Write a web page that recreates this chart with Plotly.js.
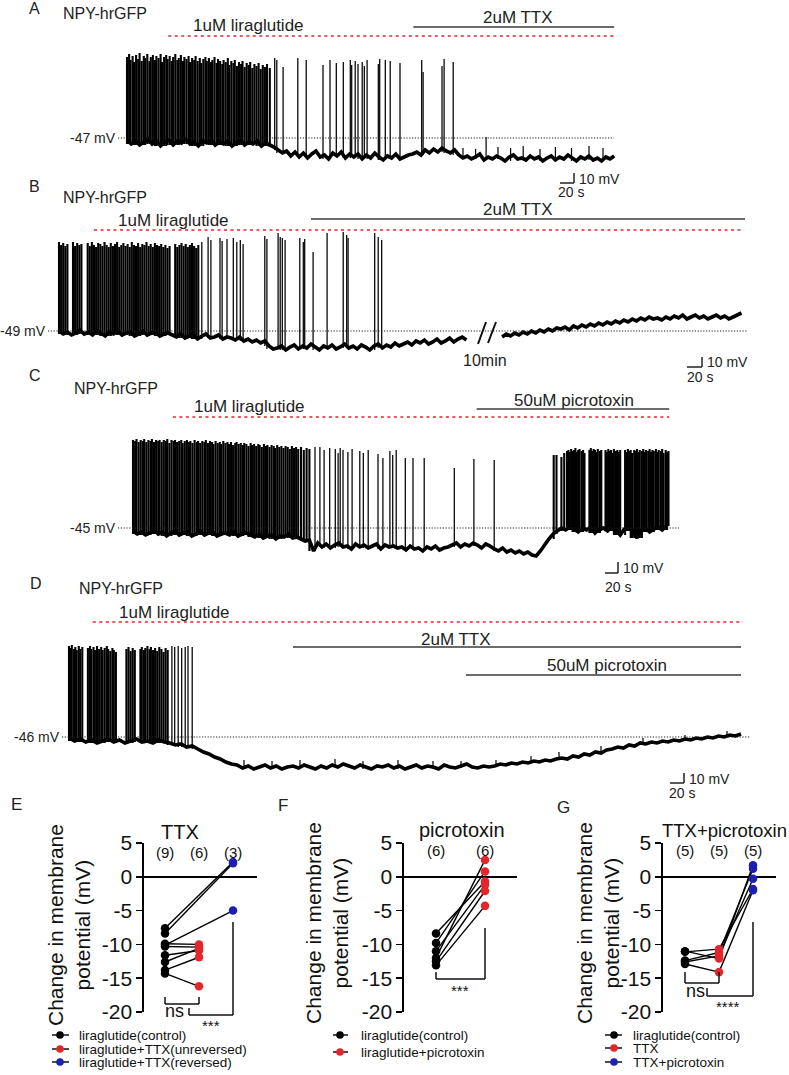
<!DOCTYPE html>
<html><head><meta charset="utf-8">
<script src="https://cdn.plot.ly/plotly-3.0.1.min.js"></script>
<style>html,body{margin:0;padding:0;background:#fff}#chart{width:789px;height:1075px}</style>
</head><body><div id="chart"></div>
<script>
// ================= DATA =================
// Panel A (time in s, membrane potential in mV)
const A_rest = -47;
const A_dt = 6;
const A_base = [-49,-53,-50,-54,-51,-48,-53,-50,-55,-51,-49,-54,-50,-52,-48,-53,-51,-55,-50,-52,-49,-54,-51,-53,-50,-55,-52,-49,-54,-51,-53,-50,-55,-52,-54,
 -56,-59,-62,-60,
 -65,-61,-66,-62,-67,-63,-60,-66,-64,-68,-62,-65,-61,-67,-63,
 -66,-63,-68,-64,-67,-62,-66,-69,-65,-67,-63,-68,-66,-64,
 -63,-61,-64,
 -59,-62,-58,-61,-57,-60,-62,-59,
 -64,-67,-65,-68,-66,-63,-69,-66,-68,-65,-67,-70,-66,-64,-68,-67,-69,-65,-68,-66,-70,-67,-65,-69,-66,-68,-64,-67,-70,-66,-68,-65,-69,-67,-70,-66,-68,-65];
const A_burst = [[0,34],[3,37],[5,31],[8,35],[10,29],[13,36],[16,32],[18,38],[21,30],[24,35],[26,33],[29,37],[32,30],[34,34],[37,36],[40,31],[42,35],[45,33],[48,37],[50,29],[53,34],[56,36],[58,32],[61,35],[64,30],[66,34],[69,37],[72,31],[74,33],[77,36],[80,30],[82,34],[85,32],[88,35],[90,29],[93,33],[96,31],[98,35],[101,30],[104,33],[106,28],[109,32],[112,34],[114,30],[117,33],[120,29],[122,31],[125,34],[128,28],[130,32],[133,30],[136,27],[138,31],[141,29],[144,33],[146,26],[149,30],[152,28],[154,31],[157,25],[160,29],[163,27],[165,30],[168,24],[171,28],[174,26],[176,29],[179,23],[182,27],[185,25],[188,28],[191,22],[194,26],[197,24],[200,27],[204,23]];
const A_spikes = [[211,33],[214,31],[223,24],[244,33],[256,31],[280,26],[290,31],[299,28],[309,29],[319,31],[321,26],[326,30],[330,27],[336,29],[339,25],[343,31],[359,27],[361,32],[369,31],[376,30],[390,28],[421,31],[423,19],[450,25],[453,32],[466,29]];
const A_events = [[480,-57],[498,-58],[513,-46],[530,-56],[548,-57],[566,-55],[590,-58],[612,-56],[635,-57],[660,-55],[680,-57]];
const A_lira = [59, 699];
const A_ttx = [409, 696];

// Panel B
const B_rest = -49;
const B_dt = 6;
const B_pre = [-49,-52,-50,-53,-51,-48,-52,-50,-53,-49,-51,-54,-50,-52,-49,-53,-51,-50,-54,-52,-49,-53,-51,-50,-54,-52,-51,
 -53,-55,-52,-56,-54,-53,-57,-54,-52,-56,-55,-53,-57,-55,
 -56,-58,-55,-59,-57,-60,-58,-61,-59,
 -64,-67,
 -66,-64,-68,-65,-63,-67,-64,-66,-62,-65,-68,-64,-66,-63,-67,-65,-62,-66,-64,-67,-63,-65,-68,-64,-62,-66,-63,-65,-61,-64,
 -62,-60,-63,-59,-61,-58,-62,-60,-57,-61,-59,-56,-60,-57,-55,-58];
const B_post_start = 633;
const B_post = [-55,-52,-54,-51,-53,-50,-52,-49,-51,-48,-50,-47,-49,-46,
 -47,-45,-48,-44,-46,-43,-45,-42,-44,-41,-43,-40,-42,-39,
 -41,-38,-40,-37,-39,-36,-38,-35,-37,-36,
 -38,-35,-37,-34,-36,-33,-37,-35,-33,-36,-34,-37,-35,-33,-36,-34,-37,-35,-33,-31];
const B_burst = [[0,40],[3,37],[6,39],[9,36],[12,38],[20,40],[23,36],[26,39],[29,37],[32,38],[41,39],[44,36],[47,40],[50,37],[53,35],[56,39],[59,38],[62,36],[65,40],[68,37],[71,35],[74,39],[77,36],[80,38],[83,40],[86,35],[89,37],[92,39],[95,36],[98,38],[101,35],[104,40],[107,37],[110,36],[113,39],[116,35],[119,38],[122,37],[125,40],[128,36],[131,38],[134,35],[137,39],[140,37],[143,36],[146,38],[149,35],[152,37],[155,34],[158,36],
 [166,38],[169,35],[172,37],[175,39],[178,36],[181,38],[184,35],[187,37],[190,39],[193,36],[196,34],[199,37]];
const B_spikes = [[204,40],[213,45],[217,42],[230,44],[233,41],[240,43],[249,44],[254,40],[259,42],[263,38],[294,46],[297,43],[313,49],[316,45],[319,44],[323,42],[344,44],[349,40],[351,43],[363,30],[383,49],[406,50],[411,47],[413,44],[451,49],[456,45],[461,42]];
const B_lira = [50, 977];
const B_ttx = [360, 980];

// Panel C
const C_rest = -45;
const C_dt = 6;
const C_base = [-48,-51,-49,-52,-50,-47,-51,-49,-53,-50,-48,-52,-50,-49,-53,-51,-48,-52,-50,-49,-53,-51,-50,-52,-49,-53,-51,-50,
 -52,-54,-51,-55,-53,-52,-56,-53,-54,-51,-55,-54,
 -56,-58,-57,
 -68,
 -60,-64,-61,-65,-62,-60,-64,-63,-66,-61,-64,-62,-65,-63,-61,-66,-62,-64,-63,-65,
 -64,-67,-63,-66,-65,-68,-64,-66,-63,-67,-65,-64,
 -62,-60,-64,-61,-63,-60,-62,-65,-61,-63,
 -66,-68,-65,-69,-67,-70,-68,-71,-69,
 -72,-73,
 -68,-62,-56,-51,
 -48,-45,-47,-44,-46,-49,-45,-47,-44,-50,-46,-45,-48,-44,-47,-52,-46,-45,-48,-55,-47,-45,-49,-46,-44,-47,-43];
const C_burst = [[0,43],[3,42],[5,44],[8,41],[11,43],[14,42],[16,44],[19,41],[22,43],[25,42],[27,44],[30,41],[33,43],[36,42],[38,43],[41,41],[44,43],[47,42],[49,44],[52,40],[55,43],[58,42],[60,43],[63,41],[66,42],[69,43],[71,40],[74,42],[77,43],[80,41],[82,42],[85,40],[88,43],[91,41],[93,42],[96,40],[99,42],[102,41],[104,43],[107,40],[110,42],[113,41],[115,39],[118,42],[121,40],[124,41],[126,39],[129,42],[132,40],[135,41],[137,39],[140,41],[143,38],[146,40],[148,41],[151,39],[154,40],[157,38],[159,40],[162,39],[165,37],[168,40],[170,38],[173,39],[176,37],[179,39],[181,38],[184,36],[187,39],[190,37],[192,38],[195,36],[198,38],[201,37],[203,35],[206,38],[209,36],[212,37],[215,35],[218,37],[221,36],[224,34],[227,37],[230,35],[233,36],[236,34],[240,36],[244,33],[248,35],[252,34],
 [601,28],[605,28],[612,26],[616,30],[620,32],[622,33],[624,31],[626,34],[628,32],[630,33],[632,35],[634,31],[636,33],[638,34],[641,32],[643,33],[645,30],[652,33],[654,35],[656,32],[658,34],[660,33],[662,31],[664,34],[667,32],[669,33],[675,33],[677,31],[679,34],[681,32],[683,33],[685,30],[687,34],[690,32],[692,33],[694,31],[696,33],[703,33],[705,31],[707,34],[709,32],[711,33],[713,30],[716,33],[718,32],[720,34],[722,31],[724,33],[727,32],[729,34],[731,31],[733,33],[736,32],[738,34],[740,31],[742,33],[744,32],[747,34],[749,31],[751,33],[754,32],[756,34],[758,30],[761,33],[763,31],[765,32]];
const C_spikes = [[260,36],[267,36],[273,33],[281,35],[289,34],[293,30],[296,35],[300,33],[307,31],[313,34],[324,32],[329,30],[336,33],[350,29],[357,25],[367,32],[371,28],[376,33],[389,25],[400,25],[416,25],[459,15],[487,24],[516,23]];
const C_lira = [57, 766];
const C_picro = [491, 766];

// Panel D
const D_rest = -46;
const D_dt = 8;
const D_base = [-47,-50,-48,-51,-49,-52,-50,-48,-51,-49,-52,-50,-48,-51,-50,-52,-49,-51,
 -52,-54,-53,-56,-55,
 -58,-61,-63,-66,-68,-71,-73,
 -74,-77,-75,-78,-76,-74,-77,-75,-78,-76,-75,-77,-74,-76,-78,-75,-77,-74,-76,-73,-75,-77,-74,-76,-78,-75,-76,-74,-77,-75,-78,-76,-74,-77,-75,-76,-78,-74,-76,-77,-75,-73,-76,-77,-75,-76,
 -75,-73,-74,-72,-73,-71,-72,-70,-71,-69,-70,-68,-67,-68,-65,-66,-63,-64,-61,-62,-59,-58,-56,-57,-54,-55,-52,-53,-51,-52,-50,-51,-49,-50,-48,-49,-47,-48,-46,-47,-45,-46,-44,-45,-43];
const D_burst = [[0,45],[2,43],[4,46],[7,42],[9,44],[11,41],[14,45],[16,42],[19,44],[27,43],[30,45],[32,42],[35,44],[37,41],[40,45],[43,42],[46,44],[48,41],[51,43],[54,45],[56,42],[59,40],[62,43],[64,41],[67,39],[82,42],[85,44],[88,40],[91,43],[94,41],[102,42],[104,44],[107,41],[109,43],[112,45],[115,42],[117,44],[120,41],[123,43],[126,40],[129,44],[132,42],[135,39],[138,43],[141,41]];
const D_spikes = [[147,45],[151,44],[156,45],[161,43],[166,44],[170,45],[176,44]];
const D_events = [[250,-69],[290,-70],[330,-69],[380,-68],[420,-70],[470,-69],[520,-70],[560,-70],[610,-69],[660,-65],[700,-61],[760,-55],[820,-47],[880,-44],[940,-40]];
const D_lira = [34, 963];
const D_ttx = [320, 960];
const D_picro = [567, 960];

// Panel E
const E_cond = ['control', 'unreversed', 'reversed'];
const E_n = ['(9)', '(6)', '(3)'];
const E_control = [-7.6, -8.4, -10.1, -9.9, -10.3, -11.6, -12.6, -13.8, -14.3];
const E_ttx = [2.2, 2.0, -5.0, -10.0, -10.4, -10.9, -10.6, -11.9, -16.2];
const E_outcome = ['reversed','reversed','reversed','unreversed','unreversed','unreversed','unreversed','unreversed','unreversed'];

// Panel F
const F_cond = ['control', 'picrotoxin'];
const F_n = ['(6)', '(6)'];
const F_control = [-8.4, -9.8, -11.0, -12.0, -12.5, -13.1];
const F_picro = [-0.7, 0.8, -1.2, 2.5, -2.1, -4.3];

// Panel G
const G_cond = ['control', 'TTX', 'TTX+picrotoxin'];
const G_n = ['(5)', '(5)', '(5)'];
const G_control = [-11.0, -11.1, -12.4, -12.6, -12.9];
const G_ttx = [-12.1, -10.7, -11.2, -11.7, -14.1];
const G_picro = [1.7, -1.8, 1.2, -0.3, -2.0];

const Y_TICKS = [-20, -15, -10, -5, 0, 5];

// ================= DRAWING =================
const W = 789, H = 1075, S = 0.7;
const FONT = 'Liberation Sans, Arial, Helvetica, sans-serif';
const TXT = '#222';
const RED = '#e3262c', BLUE = '#1f1fae';
const fx = p => p / W, fy = p => 1 - p / H;
const traces = [], shapes = [], annotations = [];
const layout = {width: W, height: H, margin: {l: 0, r: 0, t: 0, b: 0}, paper_bgcolor: '#fff', plot_bgcolor: 'rgba(0,0,0,0)', showlegend: false};

function ann(text, x, y, size, opts) {
  annotations.push(Object.assign({text: text, x: fx(x), y: fy(y), xref: 'paper', yref: 'paper', showarrow: false,
    font: {family: FONT, size: size, color: TXT}, xanchor: 'left', yanchor: 'middle', borderpad: 0}, opts || {}));
}
function seg(x0, y0, x1, y1, opts) {
  shapes.push(Object.assign({type: 'line', xref: 'paper', yref: 'paper', x0: fx(x0), y0: fy(y0), x1: fx(x1), y1: fy(y1),
    line: {color: '#111', width: 1.5}}, opts || {}));
}
function drugBar(axis, range, py, red) {
  shapes.push({type: 'line', xref: axis, yref: 'paper', x0: range[0], x1: range[1], y0: fy(py), y1: fy(py),
    line: red ? {color: RED, width: 1.6, dash: '3px,3.5px'} : {color: '#3a3a3a', width: 1.7}});
}

function tracePanel(k, cfg) {
  const sfx = k === 1 ? '' : String(k);
  const xa = 'x' + sfx, ya = 'y' + sfx;
  layout['xaxis' + sfx] = {domain: [0, 1], range: [-cfg.x0 / S, (W - cfg.x0) / S], visible: false, fixedrange: true, anchor: ya};
  layout['yaxis' + sfx] = {domain: [fy(cfg.pyBot), fy(cfg.pyTop)], range: [cfg.rest - (cfg.pyBot - cfg.pyRef), cfg.rest + (cfg.pyRef - cfg.pyTop)], visible: false, fixedrange: true, anchor: xa};
  cfg.segments.forEach(s => {
    const xs = s.base.map((v, i) => s.t0 + i * s.dt);
    traces.push({type: 'scatter', mode: 'lines', x: xs, y: s.base, xaxis: xa, yaxis: ya,
      line: {color: '#000', width: 3.6, simplify: false}, hoverinfo: 'skip'});
  });
  const foot = t => {
    const s = cfg.segments[0];
    let i = Math.round((t - s.t0) / s.dt);
    let m = Infinity;
    for (let j = i - 1; j <= i + 1; j++) { if (j >= 0 && j < s.base.length) m = Math.min(m, s.base[j]); }
    return m;
  };
  const build = (list, width) => {
    const x = [], y = [];
    list.forEach(p => { x.push(p[0], p[0], null); y.push(foot(p[0]), p[1], null); });
    traces.push({type: 'scatter', mode: 'lines', x: x, y: y, xaxis: xa, yaxis: ya,
      line: {color: '#000', width: width}, connectgaps: false, hoverinfo: 'skip'});
  };
  build(cfg.burst, 2.1);
  build(cfg.spikes, 1.25);
  if (cfg.events) build(cfg.events, 1.2);
  shapes.push({type: 'line', xref: 'paper', yref: ya, x0: fx(cfg.dotFrom), x1: fx(cfg.dotTo), y0: cfg.rest, y1: cfg.rest,
    line: {color: '#222', width: 1.2, dash: '1.2px,1.6px'}});
  annotations.push({text: cfg.rest + ' mV', x: fx(cfg.dotFrom - 1), y: cfg.rest, xref: 'paper', yref: ya, showarrow: false,
    xanchor: 'right', yanchor: 'middle', font: {family: FONT, size: 14, color: TXT}, borderpad: 0});
  return xa;
}

// ---- Panel A ----
const xA = tracePanel(1, {x0: 127, pyTop: 40, pyBot: 185, pyRef: 138, rest: A_rest,
  segments: [{t0: 0, dt: A_dt, base: A_base}], burst: A_burst, spikes: A_spikes, events: A_events, dotFrom: 118, dotTo: 614});
drugBar(xA, A_lira, 36, true); drugBar(xA, A_ttx, 27, false);
ann('A', 28, 9, 16); ann('NPY-hrGFP', 62, 14, 16); ann('1uM liraglutide', 192, 25, 17);
ann('2uM TTX', 518, 17, 17, {xanchor: 'center'});
seg(560, 183, 574, 183, {line: {color: '#222', width: 1.5}}); seg(574, 173, 574, 183, {line: {color: '#222', width: 1.5}});
ann('10 mV', 578, 179, 14); ann('20 s', 557, 192, 14);

// ---- Panel B ----
const xB = tracePanel(2, {x0: 59, pyTop: 225, pyBot: 372, pyRef: 331, rest: B_rest,
  segments: [{t0: 0, dt: B_dt, base: B_pre}, {t0: B_post_start, dt: B_dt, base: B_post}], burst: B_burst, spikes: B_spikes, dotFrom: 48, dotTo: 748});
drugBar(xB, B_lira, 230, true); drugBar(xB, B_ttx, 219, false);
ann('B', 28, 186, 16); ann('NPY-hrGFP', 62, 198, 16); ann('1uM liraglutide', 117, 220, 17);
ann('2uM TTX', 518, 210, 17, {xanchor: 'center'});
seg(478, 344, 486, 322, {line: {color: '#111', width: 2}}); seg(488, 343, 496, 322, {line: {color: '#111', width: 2}});
ann('10min', 485, 360, 16, {xanchor: 'center'});
seg(687, 367, 702, 367, {line: {color: '#222', width: 1.5}}); seg(702, 357, 702, 367, {line: {color: '#222', width: 1.5}});
ann('10 mV', 706, 362, 14); ann('20 s', 686, 377, 14);

// ---- Panel C ----
const xC = tracePanel(3, {x0: 133, pyTop: 430, pyBot: 572, pyRef: 528, rest: C_rest,
  segments: [{t0: 0, dt: C_dt, base: C_base}], burst: C_burst, spikes: C_spikes, dotFrom: 118, dotTo: 679});
drugBar(xC, C_lira, 417, true); drugBar(xC, C_picro, 409, false);
ann('C', 28, 376, 16); ann('NPY-hrGFP', 73, 388, 16); ann('1uM liraglutide', 193, 406, 17);
ann('50uM picrotoxin', 574, 400, 17, {xanchor: 'center'});
seg(605, 573, 618, 573, {line: {color: '#222', width: 1.5}}); seg(618, 562, 618, 573, {line: {color: '#222', width: 1.5}});
ann('10 mV', 622, 568, 14); ann('20 s', 604, 587, 14);

// ---- Panel D ----
const xD = tracePanel(4, {x0: 69, pyTop: 638, pyBot: 778, pyRef: 737, rest: D_rest,
  segments: [{t0: 0, dt: D_dt, base: D_base}], burst: D_burst, spikes: D_spikes, events: D_events, dotFrom: 62, dotTo: 750});
drugBar(xD, D_lira, 622, true); drugBar(xD, D_ttx, 647, false); drugBar(xD, D_picro, 675, false);
ann('D', 29, 583, 16); ann('NPY-hrGFP', 78, 588, 16); ann('1uM liraglutide', 118, 612, 17);
ann('2uM TTX', 420, 639, 17); ann('50uM picrotoxin', 546, 665, 17);
seg(670, 783, 684, 783, {line: {color: '#222', width: 1.5}}); seg(684, 773, 684, 783, {line: {color: '#222', width: 1.5}});
ann('10 mV', 688, 779, 14); ann('20 s', 668, 793, 14);

// ---- paired panels ----
function pairAxes(k, pxL, pxR, col0, step) {
  const sfx = String(k);
  layout['xaxis' + sfx] = {domain: [fx(pxL), fx(pxR)], range: [(pxL - col0) / step, (pxR - col0) / step], visible: false, fixedrange: true, anchor: 'y' + sfx};
  layout['yaxis' + sfx] = {domain: [fy(1012), fy(843)], range: [-20, 5], anchor: 'x' + sfx, fixedrange: true,
    showline: true, linecolor: '#000', linewidth: 1.6, ticks: 'outside', ticklen: 6, tickwidth: 1.6, tickcolor: '#000',
    tickmode: 'array', tickvals: Y_TICKS, ticktext: Y_TICKS.map(v => String(v)), showgrid: false,
    zeroline: true, zerolinecolor: '#000', zerolinewidth: 1.6,
    tickfont: {family: FONT, size: 21, color: '#111'}};
  return ['x' + sfx, 'y' + sfx];
}
function pairLines(ax, pairs) {
  const x = [], y = [];
  pairs.forEach(p => { x.push(p[0], p[2], null); y.push(p[1], p[3], null); });
  traces.push({type: 'scatter', mode: 'lines', x: x, y: y, xaxis: ax[0], yaxis: ax[1], line: {color: '#000', width: 1.4}, hoverinfo: 'skip'});
}
function dots(ax, xs, ys, color) {
  traces.push({type: 'scatter', mode: 'markers', x: xs, y: ys, xaxis: ax[0], yaxis: ax[1], cliponaxis: false,
    marker: {color: color, size: 8.5, line: {width: 0}}, hoverinfo: 'skip'});
}
function bracket(xref, xa, xb, yA, yB, yBot) {
  const L = {color: '#111', width: 1.5};
  shapes.push({type: 'line', xref: xref, yref: 'paper', x0: xa, x1: xa, y0: fy(yA), y1: fy(yBot), line: L});
  shapes.push({type: 'line', xref: xref, yref: 'paper', x0: xa, x1: xb, y0: fy(yBot), y1: fy(yBot), line: L});
  shapes.push({type: 'line', xref: xref, yref: 'paper', x0: xb, x1: xb, y0: fy(yBot), y1: fy(yB), line: L});
}
function ytitle(cx, cy) {
  ann('Change in membrane<br>potential (mV)', cx, cy, 21, {xanchor: 'center', textangle: -90, font: {family: FONT, size: 21, color: '#111'}});
}
function legendRow(xl, xr, xd, xt, py, color, label) {
  seg(xl, py, xr, py, {line: {color: '#111', width: 1.5}});
  shapes.push({type: 'circle', xref: 'paper', yref: 'paper', x0: fx(xd - 3.8), x1: fx(xd + 3.8), y0: fy(py + 3.8), y1: fy(py - 3.8),
    fillcolor: color, line: {width: 0}});
  ann(label, xt, py, 13, {font: {family: FONT, size: 13.5, color: '#111'}});
}

// Panel E
const axE = pairAxes(5, 144, 257, 165, 34);
pairLines(axE, E_control.map((v, i) => [E_cond.indexOf('control'), v, E_cond.indexOf(E_outcome[i]), E_ttx[i]]));
dots(axE, E_control.map(() => E_cond.indexOf('control')), E_control, '#000');
dots(axE, E_ttx.map((v, i) => E_cond.indexOf(E_outcome[i])).filter((c, i) => E_outcome[i] === 'unreversed'), E_ttx.filter((v, i) => E_outcome[i] === 'unreversed'), RED);
dots(axE, E_ttx.map((v, i) => E_cond.indexOf(E_outcome[i])).filter((c, i) => E_outcome[i] === 'reversed'), E_ttx.filter((v, i) => E_outcome[i] === 'reversed'), BLUE);
E_n.forEach((t, i) => annotations.push({text: t, x: i, y: fy(852), xref: 'x5', yref: 'paper', showarrow: false, xanchor: 'center', yanchor: 'middle', font: {family: FONT, size: 15, color: '#111'}}));
ann('TTX', 180, 832, 20, {xanchor: 'center', font: {family: FONT, size: 20, color: '#111'}});
bracket('x5', 0, 1, 997, 997, 1004); bracket('x5', 0.706, 2, 1008, 922, 1015);
ann('ns', 174, 1011, 18, {xanchor: 'center', font: {family: FONT, size: 18, color: '#111'}});
ann('***', 211, 1025, 15, {xanchor: 'center', font: {family: FONT, size: 15, color: '#111'}});
ytitle(69, 925);
ann('E', 10, 804, 17);
legendRow(52, 69, 60, 78, 1035, '#000', 'liraglutide(control)');
legendRow(52, 69, 60, 78, 1049, RED, 'liraglutide+TTX(unreversed)');
legendRow(52, 69, 60, 78, 1062, BLUE, 'liraglutide+TTX(reversed)');

// Panel F
const axF = pairAxes(6, 404, 517, 436, 49);
pairLines(axF, F_control.map((v, i) => [0, v, 1, F_picro[i]]));
dots(axF, F_control.map(() => F_cond.indexOf('control')), F_control, '#000');
dots(axF, F_picro.map(() => F_cond.indexOf('picrotoxin')), F_picro, RED);
F_n.forEach((t, i) => annotations.push({text: t, x: i, y: fy(850), xref: 'x6', yref: 'paper', showarrow: false, xanchor: 'center', yanchor: 'middle', font: {family: FONT, size: 15, color: '#111'}}));
ann('picrotoxin', 462, 830, 20, {xanchor: 'center', font: {family: FONT, size: 20, color: '#111'}});
bracket('x6', 0, 1, 972, 928, 979);
ann('***', 460, 990, 15, {xanchor: 'center', font: {family: FONT, size: 15, color: '#111'}});
ytitle(327, 923);
ann('F', 277, 805, 17);
legendRow(333, 348, 340, 360, 1035, '#000', 'liraglutide(control)');
legendRow(333, 348, 340, 360, 1052, RED, 'liraglutide+picrotoxin');

// Panel G
const axG = pairAxes(7, 663, 776, 685, 34);
pairLines(axG, G_control.map((v, i) => [0, v, 1, G_ttx[i]]));
pairLines(axG, G_ttx.map((v, i) => [1, v, 2, G_picro[i]]));
dots(axG, G_control.map(() => G_cond.indexOf('control')), G_control, '#000');
dots(axG, G_ttx.map(() => G_cond.indexOf('TTX')), G_ttx, RED);
dots(axG, G_picro.map(() => G_cond.indexOf('TTX+picrotoxin')), G_picro, BLUE);
G_n.forEach((t, i) => annotations.push({text: t, x: i, y: fy(850), xref: 'x7', yref: 'paper', showarrow: false, xanchor: 'center', yanchor: 'middle', font: {family: FONT, size: 15, color: '#111'}}));
ann('TTX+picrotoxin', 724, 830, 18.5, {xanchor: 'center', font: {family: FONT, size: 18.5, color: '#111'}});
bracket('x7', 0, 1, 972, 972, 983); bracket('x7', 0.647, 2, 988, 922, 996);
ann('ns', 695, 991, 18, {xanchor: 'center', font: {family: FONT, size: 18, color: '#111'}});
ann('****', 728, 1006, 15, {xanchor: 'center', font: {family: FONT, size: 15, color: '#111'}});
ytitle(598, 923);
ann('G', 556, 807, 17);
legendRow(605, 622, 614, 632, 1035, '#000', 'liraglutide(control)');
legendRow(605, 622, 614, 632, 1048, RED, 'TTX');
legendRow(605, 622, 614, 632, 1062, BLUE, 'TTX+picrotoxin');

layout.shapes = shapes;
layout.annotations = annotations;
Plotly.newPlot('chart', traces, layout, {staticPlot: true, displayModeBar: false});
</script>
</body></html>
